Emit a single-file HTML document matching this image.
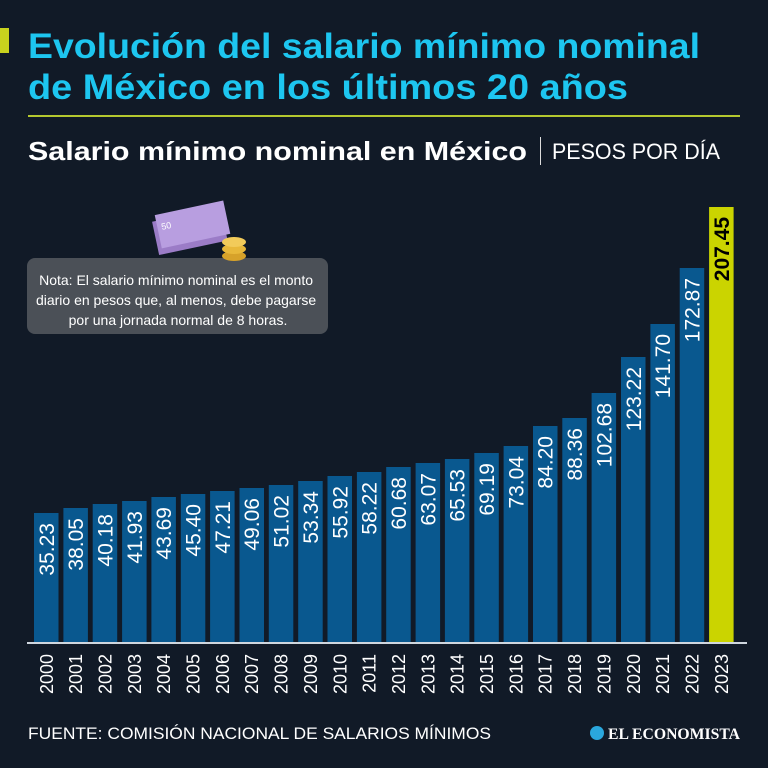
<!DOCTYPE html>
<html><head><meta charset="utf-8"><style>
html,body{margin:0;padding:0;background:#111a27;}
body{width:768px;height:768px;overflow:hidden;position:relative;font-family:"Liberation Sans",sans-serif;}
</style></head><body>
<svg width="768" height="768" xmlns="http://www.w3.org/2000/svg" style="position:absolute;left:0;top:0">
<rect width="768" height="768" fill="#111a27"/>
<rect x="0" y="28" width="9" height="25" fill="#c8d21e"/>
<text x="28" y="58" font-family="Liberation Sans" font-weight="bold" font-size="35" fill="#1dc6f0" textLength="672" lengthAdjust="spacingAndGlyphs">Evolución del salario mínimo nominal</text>
<text x="28" y="99" font-family="Liberation Sans" font-weight="bold" font-size="35" fill="#1dc6f0" textLength="600" lengthAdjust="spacingAndGlyphs">de México en los últimos 20 años</text>
<rect x="28" y="115" width="712" height="2" fill="#b5c82f"/>
<text x="28" y="160" font-family="Liberation Sans" font-weight="bold" font-size="26" fill="#fff" textLength="499" lengthAdjust="spacingAndGlyphs">Salario mínimo nominal en México</text>
<rect x="540" y="137" width="1" height="28" fill="#ddd"/>
<text x="552" y="159" font-family="Liberation Sans" font-size="22" fill="#fff" textLength="168" lengthAdjust="spacingAndGlyphs">PESOS POR DÍA</text>

<g id="bars"></g>
<rect x="27" y="642" width="720" height="2" fill="#cfd6de"/>

<rect x="27" y="258" width="301" height="76" rx="8" fill="#4b5057"/>
<text font-family="Liberation Sans" font-size="14" fill="#fff" text-anchor="middle">
<tspan x="178" y="285">Nota: El salario mínimo nominal es el monto</tspan>
<tspan x="178" y="305">diario en pesos que, al menos, debe pagarse</tspan>
<tspan x="178" y="325">por una jornada normal de 8 horas.</tspan></text>
<g transform="translate(150,212) rotate(-12)">
<rect x="0" y="10" width="70" height="34" fill="#9b7cc7"/>
<rect x="4" y="4" width="70" height="34" fill="#b89ee0"/>
<text x="8" y="20" font-size="9" fill="#fff">50</text>
</g>
<ellipse cx="234" cy="256" rx="12" ry="5" fill="#d7a22a"/>
<ellipse cx="234" cy="249" rx="12" ry="5" fill="#e8b83a"/>
<ellipse cx="234" cy="242" rx="12" ry="5" fill="#f2cb5a"/>

<text x="28" y="739" font-family="Liberation Sans" font-size="17" fill="#fff" textLength="463" lengthAdjust="spacingAndGlyphs">FUENTE: COMISIÓN NACIONAL DE SALARIOS MÍNIMOS</text>
<circle cx="597" cy="733" r="7" fill="#2aa7dd"/>
<text x="608" y="739" font-family="Liberation Serif" font-weight="bold" font-size="16" fill="#fff" textLength="132" lengthAdjust="spacingAndGlyphs">EL ECONOMISTA</text>
</svg>
<script>
var vals=["35.23","38.05","40.18","41.93","43.69","45.40","47.21","49.06","51.02","53.34","55.92","58.22","60.68","63.07","65.53","69.19","73.04","84.20","88.36","102.68","123.22","141.70","172.87","207.45"];
var tops=[513,508,504,501,497,494,491,488,485,481,476,472,467,463,459,453,446,426,418,393,357,324,268,207];
var g=document.getElementById('bars');var s='';
for(var i=0;i<24;i++){var x=34+i*29.35;var last=i==23;
s+='<rect x="'+x.toFixed(1)+'" y="'+tops[i]+'" width="24.5" height="'+(642-tops[i])+'" fill="'+(last?'#cbd400':'#09588f')+'"/>';
var cx=x+12.25+7.5;
s+='<text transform="translate('+cx.toFixed(1)+','+(tops[i]+10)+') rotate(-90)" text-anchor="end" font-family="Liberation Sans" font-size="21" '+(last?'font-weight="bold" fill="#000"':'fill="#fff"')+'>'+vals[i]+'</text>';
s+='<text transform="translate('+(x+12.25+6.5).toFixed(1)+',654) rotate(-90)" text-anchor="end" font-family="Liberation Sans" font-size="18" fill="#fff">'+(2000+i)+'</text>';}
g.innerHTML=s;
</script>
</body></html>
